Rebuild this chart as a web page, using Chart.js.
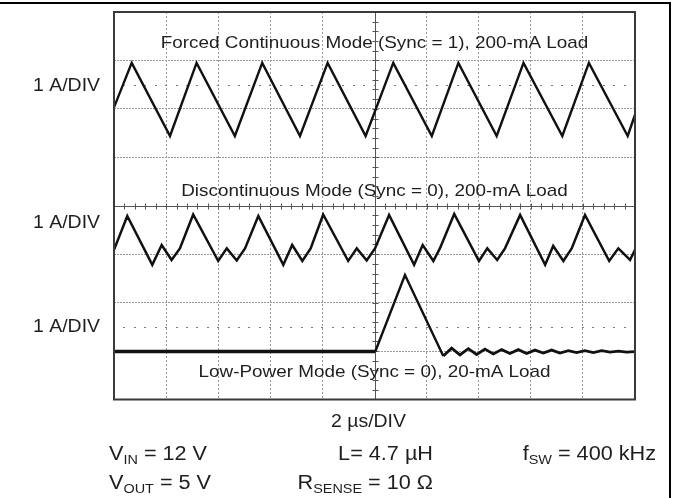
<!DOCTYPE html>
<html>
<head>
<meta charset="utf-8">
<script src="https://cdn.jsdelivr.net/npm/chart.js@4/dist/chart.umd.min.js"></script>
<style>
  html, body { margin: 0; padding: 0; background: #fff; }
  canvas { display: block; }
</style>
</head>
<body>
<canvas id="c" width="673" height="498"></canvas>
<script>
// ---- Data (time in µs, current in scope divisions from bottom of screen) ----
const forcedTime = [0, 0.68, 2.15, 3.17, 4.64, 5.69, 7.14, 8.20, 9.66, 10.72, 12.20, 13.22, 14.69, 15.72, 17.21, 18.23, 19.72, 20];
const forcedCurrent = [6.03, 6.95, 5.44, 6.95, 5.44, 6.95, 5.44, 6.95, 5.44, 6.95, 5.44, 6.95, 5.44, 6.95, 5.44, 6.95, 5.44, 5.88];

const dcmTime = [0, 0.51, 1.47, 1.83, 2.21, 2.53, 3.04, 4.00, 4.33, 4.71, 5.03, 5.54, 6.50, 6.84, 7.23, 7.55, 8.03, 8.99, 9.32, 9.70, 10.02, 10.56, 11.52, 11.85, 12.26, 12.51, 13.06, 14.01, 14.33, 14.71, 15.01, 15.59, 16.55, 16.86, 17.25, 17.57, 18.08, 19.01, 19.36, 19.81, 20];
const dcmCurrent = [3.09, 3.79, 2.78, 3.19, 2.88, 3.12, 3.82, 2.86, 3.12, 2.87, 3.12, 3.79, 2.78, 3.19, 2.86, 3.12, 3.82, 2.86, 3.12, 2.87, 3.12, 3.81, 2.78, 3.19, 2.86, 3.12, 3.83, 2.86, 3.12, 2.88, 3.12, 3.81, 2.78, 3.17, 2.86, 3.12, 3.81, 2.86, 3.12, 2.88, 3.09];

const lowPowerTime = [0, 10.03, 11.17, 12.64, 12.96, 13.28, 13.60, 13.92, 14.24, 14.56, 14.88, 15.20, 15.52, 15.84, 16.16, 16.48, 16.80, 17.12, 17.44, 17.76, 18.08, 18.40, 18.72, 19.04, 19.36, 19.68, 20];
const lowPowerCurrent = [0.99, 0.99, 2.57, 0.90, 1.06, 0.92, 1.05, 0.93, 1.04, 0.94, 1.03, 0.95, 1.03, 0.95, 1.02, 0.96, 1.02, 0.96, 1.01, 0.97, 1.01, 0.97, 1.01, 0.98, 1.00, 0.98, 0.99];

const traceTitles = [
  'Forced Continuous Mode (Sync = 1), 200-mA Load',
  'Discontinuous Mode (Sync = 0), 200-mA Load',
  'Low-Power Mode (Sync = 0), 20-mA Load'
];
const traceTitleLevels = [7.25, 4.2, 0.46];
const channelLabels = ['1 A/DIV', '1 A/DIV', '1 A/DIV'];
const channelLabelLevels = [6.37, 3.55, 1.39];
const timeBaseLabel = '2 µs/DIV';
const markerRowLevels = [6.5, 1.5];

// ---- Helpers ----
const toPoints = (xs, ys) => xs.map((x, i) => ({ x: x, y: ys[i] }));
const SX = 1.11;
const FONT_FAMILY = '"Liberation Sans", Arial, Helvetica, sans-serif';

function drawRich(ctx, parts, x, y, align, size, subSize) {
  let total = 0;
  parts.forEach(p => {
    ctx.font = (p.sub ? subSize : size) + 'px ' + FONT_FAMILY;
    p.w = ctx.measureText(p.t).width * SX;
    total += p.w;
  });
  let cx = align === 'center' ? x - total / 2 : (align === 'right' ? x - total : x);
  parts.forEach(p => {
    ctx.save();
    ctx.font = (p.sub ? subSize : size) + 'px ' + FONT_FAMILY;
    ctx.textAlign = 'left';
    ctx.textBaseline = 'alphabetic';
    ctx.translate(cx, y + (p.sub ? 4 : 0));
    ctx.scale(SX, 1);
    ctx.fillText(p.t, 0, 0);
    ctx.restore();
    cx += p.w;
  });
}

const scopePlugin = {
  id: 'scope',
  beforeDatasetsDraw(chart) {
    const { ctx, chartArea: a, scales: { x, y } } = chart;
    ctx.save();
    // marker rows (sparse dots)
    ctx.fillStyle = '#7a7a7a';
    markerRowLevels.forEach(lv => {
      const py = Math.round(y.getPixelForValue(lv));
      for (let t = 0.4; t < 20; t += 0.4) {
        const px = x.getPixelForValue(t);
        ctx.fillRect(Math.round(px) - 1, py, 2, 1);
      }
    });
    // center cross with tick marks
    ctx.strokeStyle = '#555';
    ctx.lineWidth = 1;
    const cxp = Math.round(x.getPixelForValue(10)) + 0.5;
    const cyp = Math.round(y.getPixelForValue(4)) + 0.5;
    ctx.beginPath();
    ctx.moveTo(cxp, a.top); ctx.lineTo(cxp, a.bottom);
    ctx.moveTo(a.left, cyp); ctx.lineTo(a.right, cyp);
    for (let v = 0.2; v < 8; v += 0.2) {
      const py = Math.round(y.getPixelForValue(v)) + 0.5;
      ctx.moveTo(cxp - 3, py); ctx.lineTo(cxp + 3, py);
    }
    for (let t = 0.4; t < 20; t += 0.4) {
      const px = Math.round(x.getPixelForValue(t)) + 0.5;
      ctx.moveTo(px, cyp - 3); ctx.lineTo(px, cyp + 3);
    }
    ctx.stroke();
    ctx.restore();
  },
  afterDraw(chart) {
    const { ctx, chartArea: a, scales: { x, y } } = chart;
    ctx.save();
    // plot border
    ctx.strokeStyle = '#3a3a3a';
    ctx.lineWidth = 2;
    ctx.strokeRect(a.left, a.top, a.right - a.left, a.bottom - a.top);
    // outer frame (top and right)
    ctx.fillStyle = '#000';
    ctx.fillRect(0, 2, 671, 2);
    ctx.fillRect(669, 2, 2, 496);
    // text
    ctx.fillStyle = '#1e1e1e';
    const midX = x.getPixelForValue(10);
    traceTitles.forEach((t, i) => {
      drawRich(ctx, [{ t: t }], midX, y.getPixelForValue(traceTitleLevels[i]), 'center', 17, 12);
    });
    channelLabels.forEach((t, i) => {
      drawRich(ctx, [{ t: t }], a.left - 14, y.getPixelForValue(channelLabelLevels[i]), 'right', 17.5, 12);
    });
    drawRich(ctx, [{ t: timeBaseLabel }], midX - 6, 427, 'center', 17.5, 12);
    drawRich(ctx, [{ t: 'V' }, { t: 'IN', sub: true }, { t: ' = 12 V' }], 109, 460, 'left', 19.5, 13);
    drawRich(ctx, [{ t: 'L= 4.7 µH' }], 433, 460, 'right', 19.5, 13);
    drawRich(ctx, [{ t: 'f' }, { t: 'SW', sub: true }, { t: ' = 400 kHz' }], 656, 460, 'right', 19.5, 13);
    drawRich(ctx, [{ t: 'V' }, { t: 'OUT', sub: true }, { t: ' = 5 V' }], 109, 489, 'left', 19.5, 13);
    drawRich(ctx, [{ t: 'R' }, { t: 'SENSE', sub: true }, { t: ' = 10 Ω' }], 433, 489, 'right', 19.5, 13);
    ctx.restore();
  }
};

const gridColorX = c => (c.tick && (c.tick.value === 0 || c.tick.value === 20 || c.tick.value === 10)) ? 'rgba(0,0,0,0)' : '#9a9a9a';
const gridColorY = c => (c.tick && (c.tick.value === 0 || c.tick.value === 8 || c.tick.value === 4)) ? 'rgba(0,0,0,0)' : '#9a9a9a';

new Chart(document.getElementById('c'), {
  type: 'line',
  data: {
    datasets: [
      { label: traceTitles[0], data: toPoints(forcedTime, forcedCurrent), borderColor: '#111', borderWidth: 2.4, pointRadius: 0, tension: 0 },
      { label: traceTitles[1], data: toPoints(dcmTime, dcmCurrent), borderColor: '#111', borderWidth: 2.5, pointRadius: 0, tension: 0 },
      { label: traceTitles[2], data: toPoints(lowPowerTime, lowPowerCurrent), borderColor: '#111', borderWidth: 2.4, pointRadius: 0, tension: 0,
        segment: { borderWidth: c => c.p0DataIndex === 0 ? 3.6 : (c.p0DataIndex >= 3 ? 2.8 : 2.4) } }
    ]
  },
  options: {
    responsive: false,
    animation: false,
    devicePixelRatio: 1,
    layout: { padding: { left: 114, top: 12, right: 38, bottom: 98.5 } },
    scales: {
      x: { type: 'linear', min: 0, max: 20,
           ticks: { display: false, stepSize: 2 },
           grid: { drawTicks: false, color: gridColorX, lineWidth: 1 },
           border: { display: false, dash: [2, 2] } },
      y: { type: 'linear', min: 0, max: 8,
           ticks: { display: false, stepSize: 1 },
           grid: { drawTicks: false, color: gridColorY, lineWidth: 1 },
           border: { display: false, dash: [2, 1] } }
    },
    plugins: { legend: { display: false }, tooltip: { enabled: false } }
  },
  plugins: [scopePlugin]
});
</script>
</body>
</html>
